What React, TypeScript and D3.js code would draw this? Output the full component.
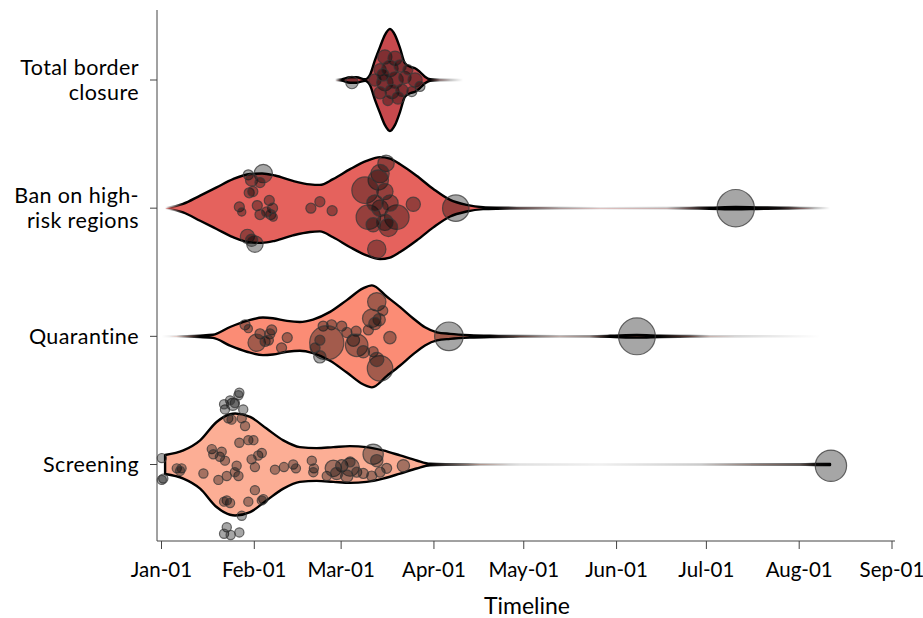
import React from "react";
import * as d3 from "d3";

// Categories, top to bottom
const categories = ["Total border closure", "Ban on high-risk regions", "Quarantine", "Screening"];
const categoryLines = [["Total border", "closure"], ["Ban on high-", "risk regions"], ["Quarantine"], ["Screening"]];
const violinColors = ["#c7494d", "#e5625d", "#fb8c75", "#fcae95"];

// Tick labels (month starts, 2020)
const tickMonths = ["2020-01-01", "2020-02-01", "2020-03-01", "2020-04-01", "2020-05-01", "2020-06-01", "2020-07-01", "2020-08-01", "2020-09-01"];
const xTitle = "Timeline";

// Violin density profiles: [days since 1 Jan 2020, density in % of peak]
const densityTotal: [number, number][] = [[58,0],[60.2,1.2],[63,5.3],[65.2,5.3],[68,1.4],[69.6,9.8],[71.3,39],[73,65],[74.6,88],[76.3,100],[78,88],[79.7,62],[81.3,33],[83,26],[84.7,23],[86.3,16],[88,6.5],[89.7,1.4],[93,0.4],[100.7,0]];
const densityBan: [number, number][] = [[1.2,0],[7.2,8.4],[12.9,24.7],[18.4,40.8],[23.9,57],[29.6,67],[33.6,68],[37.9,64],[43.9,53.4],[49.6,46.6],[52.9,45.6],[57.3,57],[63,76.5],[68.5,92.6],[73,100],[76.3,97],[79.7,86],[85.2,63.5],[90.8,37.7],[96.4,16.3],[101.9,6.6],[107.4,1.9],[112,1],[119.7,0.6],[133,0.3],[146.5,0.1],[168.8,0.2],[176.5,0.6],[183,1.1],[191.8,2.2],[198.9,1.6],[206.6,0.9],[213.2,0.5],[223.3,0]];
const densityQuarantine: [number, number][] = [[0,0],[5,0.1],[8.5,0.5],[12.9,1.4],[17.2,3],[22.9,18.3],[28.5,30.2],[33.9,36.9],[37.2,35.5],[41.9,30.2],[46.2,28.2],[50.6,32.9],[56.3,47.9],[61.9,71],[67.3,94],[70.3,100],[75.3,77.5],[79.7,57.2],[84,35.5],[88,17.8],[92,7.9],[96.4,4.9],[103,2.4],[109.7,1.2],[119.7,0.6],[133,0.24],[143,0.4],[149.8,1.1],[158.8,2.6],[166.5,1.4],[176.5,0.6],[183.2,0.2],[220,0]];
const densityScreening: [number, number][] = [[1.2,18.7],[7.3,27.6],[12.9,47.3],[18.4,83.4],[22.9,98.6],[24.6,100],[29.6,93.3],[35.1,70.4],[40.7,47.3],[46.2,34.1],[51.8,32.1],[57.4,34.1],[62.9,36.1],[68.5,34.1],[74,27.6],[79.7,17.8],[85.2,7.9],[89.7,1.4],[96.4,0.7],[106.4,0.3],[119.7,0.12],[146.5,0.06],[179.8,0.2],[199.9,0.45],[213.2,0.6],[218.3,0.9],[223.3,1.0]];

// Policy events: [days since 1 Jan 2020, vertical jitter (lane units), weight]
const pointsTotal: [number, number, number][] = [[63.6,0.02,1.8],[74.6,-0.18,2.4],[78,-0.17,2.4],[73,-0.08,1.8],[76.3,-0.09,3.2],[79.7,-0.11,1.8],[71.3,0,1.8],[74.6,0.02,3.2],[78,0,3.2],[81.3,-0.02,1.8],[84.7,0,2.4],[73,0.1,1.8],[77,0.09,2.4],[80.3,0.08,1.8],[83.6,0.09,1.2],[75.6,0.16,1.2],[79,0.14,1.8],[82.3,-0.08,1.2],[86.3,0.05,1.2],[74,-0.04,1.8]];
const pointsBan: [number, number, number][] = [[29,-0.26,1.2],[34,-0.27,4],[30.1,-0.22,1.8],[32.9,-0.2,1.2],[29.3,-0.12,1.2],[30.5,-0.13,1.2],[26,-0.01,1.2],[26.8,0.03,0.8],[32,-0.02,1.2],[32.9,0.05,1.2],[36,-0.06,1.2],[37.1,0,1.2],[36.5,0.05,1.2],[35.1,0.03,1.2],[37.3,0.07,0.8],[28.7,0.22,2.4],[31.2,0.28,3.2],[30.1,0.25,1.8],[49.9,0,1.2],[52.9,-0.05,1.2],[57,0.02,1.2],[84.1,-0.03,2.4],[98.3,0,8.3],[71.9,0.32,4],[75,-0.35,3.2],[73,-0.27,4],[72.4,-0.22,4.9],[68,-0.14,8.3],[74.6,-0.13,3.2],[69.1,0.07,7.1],[78.6,0.07,7.1],[73,0,3.2],[71.3,-0.04,3.2],[76.3,-0.04,3.2],[74.6,0.11,3.2],[70.7,0.13,2.4],[75.8,0.15,4],[191.8,0,16.5]];
const pointsQuarantine: [number, number, number][] = [[27.9,-0.09,1.2],[29,-0.06,0.8],[32.9,-0.02,1.2],[36.8,-0.05,1.2],[36.2,-0.02,1.2],[31.8,0.05,3.6],[34.6,0.04,1.2],[35.7,0.03,1.2],[42,0.01,1.2],[40.1,0.09,1.2],[54,-0.08,1.2],[56.8,-0.09,1.2],[60.2,-0.08,1.2],[55.2,0.05,13.8],[52.9,0.03,1.2],[51.3,0.09,1.2],[52.9,0.16,1.8],[61.9,-0.03,1.2],[65,-0.04,1.2],[64.1,0.03,1.8],[65.2,0.07,6],[67.4,0.12,1.8],[70.7,0.12,1.2],[71.9,-0.27,4],[70.2,-0.14,4],[72.7,-0.13,1.8],[71.3,-0.1,1.8],[69.1,-0.05,1.2],[73.9,-0.2,1.2],[76.3,0.01,1.8],[73,0.25,7.7],[71.9,0.18,2.4],[96,0,9.7],[158.8,0,16]];
const pointsScreening: [number, number, number][] = [[0.1,-0.05,1],[0.6,0.11,1],[0.1,0.12,1],[5.1,0.03,1],[6.7,0.03,1],[6.2,0.05,1],[14,0.07,1],[16.8,-0.12,1],[17.3,-0.08,1],[19.5,-0.06,1],[21.2,-0.03,1],[20.1,-0.1,1],[19,0.12,1],[21.8,0.09,1],[25.1,0.01,1],[25.7,0.09,1],[24.5,0.06,1],[26,-0.17,1],[29,-0.19,1],[30.7,-0.19,1],[30.1,-0.04,1],[31.2,0.02,1],[32.3,-0.07,1],[33.5,-0.09,1],[21.8,0.28,1],[22.9,0.3,1],[20.9,0.29,1],[29,0.29,1],[31.2,0.2,1],[34,0.27,1],[33.5,0.28,1],[26.8,0.4,1],[21.8,0.49,1],[20.9,0.54,1],[23.1,0.55,1],[26,0.53,1],[22.3,-0.36,1],[23.4,-0.35,1],[27.9,-0.3,1],[26.8,-0.36,1],[21.2,-0.43,1],[23.8,-0.47,1.8],[20.9,-0.47,1],[27.3,-0.43,1],[26,-0.56,1],[25.7,-0.54,1],[24.5,-0.48,1],[22.9,-0.5,1],[37.9,0.04,1],[40.9,0.02,1],[44,0,1],[44.9,0.03,1],[50.2,-0.03,1],[50.9,0.03,1],[50.7,0.06,1],[55.2,0.09,1],[57.4,0.03,3.2],[60.2,0.01,1.8],[63,0.02,4],[61.9,0.09,1.8],[65.2,0.06,1.2],[58.5,0.07,1.8],[67.4,0.07,1.2],[70.7,-0.08,4.9],[71.9,-0.03,1.8],[73,0.06,1.2],[70.2,0.09,1.2],[75.2,0.03,1.2],[80.8,0.01,1.8],[63,-0.02,1.2],[223.6,0.01,11.6]];

const densities = [densityTotal, densityBan, densityQuarantine, densityScreening];
const pointSets = [pointsTotal, pointsBan, pointsQuarantine, pointsScreening];

const START = new Date(2020, 0, 1);
const toDate = (d: number) => new Date(START.getTime() + d * 86400000);
const parse = d3.timeParse("%Y-%m-%d");
const fmt = d3.timeFormat("%b-%d");

const W = 923, H = 618;
const FONT = "Lato, 'Open Sans', sans-serif";

export default function App() {
  const x = d3.scaleTime().domain([parse(tickMonths[0])!, parse(tickMonths[tickMonths.length - 1])!]).range([161.5, 892]);
  const y = d3.scalePoint<string>().domain(categories).range([80, 464.5]);
  const laneStep = y.step();
  const jitter = d3.scaleLinear().domain([-1, 1]).range([-laneStep, laneStep]);
  const halfWidth = d3.scaleLinear().domain([0, 100]).range([0, 51]);
  const radius = d3.scaleSqrt().domain([0, 1]).range([0, 4.6]);

  const axisY = 541;
  const axisX = x(toDate(-1.5));

  return (
    <svg width={W} height={H} style={{ position: "absolute", left: 0, top: 0, background: "#fff" }} fontFamily={FONT}>
      <defs>
        {densities.map((dens, i) => {
          const x0 = x(toDate(dens[0][0]));
          const x1 = x(toDate(dens[dens.length - 1][0]));
          return (
            <linearGradient key={i} id={`vstroke${i}`} gradientUnits="userSpaceOnUse" x1={x0} x2={x1} y1={0} y2={0}>
              {dens.map((p, j) => (
                <stop key={j} offset={(x(toDate(p[0])) - x0) / (x1 - x0)} stopColor="#000" stopOpacity={Math.min(1, halfWidth(p[1]) / 0.5)} />
              ))}
            </linearGradient>
          );
        })}
      </defs>

      {/* violins */}
      {densities.map((dens, i) => {
        const cy = y(categories[i])!;
        const area = d3.area<[number, number]>()
          .x((d) => x(toDate(d[0])))
          .y0((d) => cy + halfWidth(d[1]))
          .y1((d) => cy - halfWidth(d[1]))
          .curve(d3.curveMonotoneX);
        return (
          <path key={i} d={area(dens) || ""} fill={violinColors[i]} stroke={`url(#vstroke${i})`} strokeWidth={2.4} strokeLinejoin="round" />
        );
      })}

      {/* points */}
      {pointSets.map((pts, i) => {
        const cy = y(categories[i])!;
        return (
          <g key={i}>
            {pts.map((p, j) => (
              <circle key={j} cx={x(toDate(p[0]))} cy={cy + jitter(p[1])} r={radius(p[2])}
                fill="#000" fillOpacity={0.35} stroke="#383838" strokeOpacity={0.75} strokeWidth={1.2} />
            ))}
          </g>
        );
      })}

      {/* y axis */}
      <line x1={157} x2={157} y1={10} y2={axisY} stroke="#444" strokeWidth={1} />
      {categories.map((c, i) => {
        const cy = y(c)!;
        const lines = categoryLines[i];
        return (
          <g key={c}>
            <line x1={150} x2={157} y1={cy} y2={cy} stroke="#444" strokeWidth={1} />
            {lines.map((t, k) => (
              <text key={k} x={139} y={cy + 7.5 + (k - (lines.length - 1) / 2) * 24.5} textAnchor="end" fontSize={21.5} letterSpacing={0.4} fill="#000">{t}</text>
            ))}
          </g>
        );
      })}

      {/* x axis */}
      <line x1={axisX} x2={x(toDate(245))} y1={axisY} y2={axisY} stroke="#444" strokeWidth={1} />
      {tickMonths.map((m) => {
        const d = parse(m)!;
        const tx = x(d);
        return (
          <g key={m}>
            <line x1={tx} x2={tx} y1={axisY} y2={axisY + 8} stroke="#444" strokeWidth={1} />
            <text x={tx} y={577} textAnchor="middle" fontSize={20.5} fill="#000">{fmt(d)}</text>
          </g>
        );
      })}
      <text x={527} y={614} textAnchor="middle" fontSize={23} fill="#000">{xTitle}</text>
    </svg>
  );
}
